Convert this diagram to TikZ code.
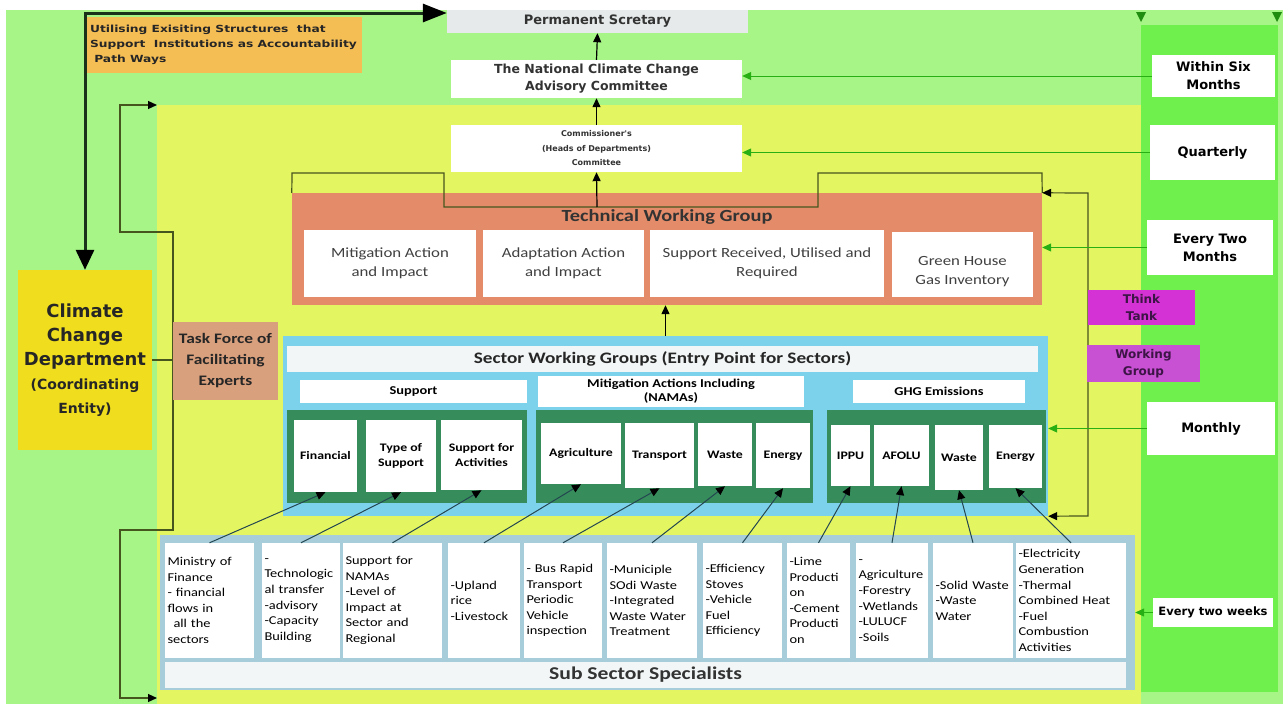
\documentclass[tikz,border=0pt]{standalone}
\usepackage{fontspec}
\setmainfont{Carlito}
\newfontfamily\fcal[FakeStretch=1.2]{Carlito}
\newfontfamily\fdv{DejaVu Sans}
\newfontfamily\fdvw[FakeStretch=1.25]{DejaVu Sans}
\usetikzlibrary{arrows.meta}
\definecolor{lgreen}{RGB}{166,245,134}
\definecolor{yel}{RGB}{228,245,98}
\definecolor{bgreen}{RGB}{112,240,76}
\definecolor{orng}{RGB}{245,190,85}
\definecolor{salmon}{RGB}{228,140,105}
\definecolor{sblue}{RGB}{125,210,235}
\definecolor{dgreen}{RGB}{55,140,92}
\definecolor{subblue}{RGB}{168,205,218}
\definecolor{sssw}{RGB}{242,246,246}
\definecolor{psgray}{RGB}{230,234,234}
\definecolor{ccdy}{RGB}{240,222,30}
\definecolor{tanb}{RGB}{217,160,125}
\definecolor{mag1}{RGB}{212,50,212}
\definecolor{mag2}{RGB}{200,80,210}
\definecolor{arrgreen}{RGB}{40,175,20}
\definecolor{olivel}{RGB}{70,85,30}
\definecolor{tealline}{RGB}{35,70,80}
\definecolor{thickc}{RGB}{25,50,25}
\definecolor{purtext}{RGB}{60,20,70}
\newcommand\mybox[7]{\node[#6,minimum width={(#4)-(#2)},minimum height={(#5)-(#3)}] (#1) at ({((#2)+(#4))/2},{((#3)+(#5))/2}) {#7};}
\begin{document}
\begin{tikzpicture}[x=1pt,y=-1pt,
  wbox/.style={draw=none,fill=white,inner sep=1pt,align=center},
  plain/.style={draw=none,inner sep=1pt,align=center},
  sbox/.style={wbox,font=\fcal\bfseries\fontsize{11.5}{15}\selectfont},
  bbox/.style={wbox,align=left,inner sep=2pt,font=\fcal\fontsize{12}{15.6}\selectfont},
  rbox/.style={wbox,font=\fdv\bfseries\fontsize{13}{18}\selectfont},
  tfont/.style={font=\fcal\fontsize{14}{19}\selectfont,text=black!75},
  tbox/.style={wbox,tfont},
  hbox/.style={wbox,font=\fcal\bfseries\fontsize{12}{14}\selectfont},
  barr/.style={draw=black,line width=1.2pt,-{Triangle[length=9pt,width=8pt]}},
  garr/.style={draw=arrgreen,line width=1pt,-{Triangle[length=9pt,width=8pt]}},
  sarr/.style={draw=tealline,line width=1pt,-{Triangle[length=9pt,width=8pt,color=black]}},
  conn/.style={draw=olivel,line width=1.2pt},
  ctip/.style={{Triangle[length=9pt,width=8pt,color=black]}-{Triangle[length=9pt,width=8pt,color=black]}}
]
\useasboundingbox (0,0) rectangle (1283,704);
% backgrounds
\fill[white] (0,0) rectangle (1283,704);
\fill[lgreen] (6,10) rectangle (1283,704);
\fill[yel] (157,105) rectangle (1141,704);
\fill[bgreen] (1141,25) rectangle (1278,692);
\fill[arrgreen!80!black] (1136,12) -- (1146,12) -- (1141,22) -- cycle;
\fill[arrgreen!80!black] (1272,12) -- (1282,12) -- (1277,22) -- cycle;

% left connector loop (behind boxes)
\coordinate (la) at (157,105);
\coordinate (lb) at (157,698);
\draw[conn,ctip] (la) -- (120,105) -- (120,232) -- (173,232) -- (173,530) -- (120,530) -- (120,698) -- (lb);

% top chain
\mybox{ps}{447}{10}{748}{33}{wbox,fill=psgray,font=\fdv\bfseries\fontsize{13}{15}\selectfont,text=black!80}{Permanent Scretary}
\mybox{nccac}{451}{60}{742}{98}{wbox,font=\fdv\bfseries\fontsize{12.5}{17}\selectfont,text=black!80}{The National Climate Change\\Advisory Committee}
\mybox{comm}{451}{125}{742}{172}{wbox,font=\fdv\bfseries\fontsize{8}{14.5}\selectfont,text=black!80}{Commissioner's\\(Heads of Departments)\\Committee}
\mybox{util}{85}{17}{362}{73}{plain,fill=orng,align=left,font=\fdvw\bfseries\fontsize{9.8}{15}\selectfont,text=black!85}{Utilising Exisiting Structures\ \ that\\Support\ \ Institutions as Accountability\\\ Path Ways}

% left
\mybox{ccd}{18}{270}{152}{450}{plain,fill=ccdy,font=\fdv\bfseries\fontsize{18}{24}\selectfont,text=black!85}{Climate\\Change\\Department\\{\fontsize{14}{17}\selectfont(Coordinating}\\{\fontsize{14}{17}\selectfont Entity)}}
\mybox{tf}{173}{322}{278}{400}{plain,fill=tanb,font=\fcal\bfseries\fontsize{14.5}{21}\selectfont,text=black!85}{Task Force of\\Facilitating\\Experts}
\draw[conn] (ccd.east) -- (ccd.east -| tf.west);

% right column
\mybox{six}{1152}{55}{1275}{97}{rbox}{Within Six\\Months}
\mybox{quart}{1150}{125}{1275}{180}{rbox}{Quarterly}
\mybox{twom}{1147}{220}{1273}{275}{rbox}{Every Two\\Months}
\mybox{month}{1147}{402}{1275}{455}{rbox}{Monthly}
\mybox{twow}{1153}{598}{1273}{627}{wbox,font=\fdv\bfseries\fontsize{11.5}{13}\selectfont}{Every two weeks}

% technical working group
\mybox{twg}{292}{193}{1042}{305}{plain,fill=salmon}{}
\node[plain,font=\fcal\bfseries\fontsize{17}{20}\selectfont,text=black!80] (twgt) at (667,217) {Technical Working Group};
\mybox{mai}{304}{230}{476}{297}{tbox}{Mitigation Action\\and Impact}
\mybox{aai}{483}{230}{644}{297}{tbox}{Adaptation Action\\and Impact}
\mybox{sru}{650}{230}{884}{297}{tbox}{Support Received, Utilised and\\Required}
\mybox{ghgi}{892}{232}{1033}{297}{wbox}{}
\node[plain,tfont] (ghgt) at ([yshift=-7pt]ghgi.center) {Green House\\Gas Inventory};

% sector working groups
\mybox{swg}{283}{336}{1048}{516}{plain,fill=sblue}{}
\mybox{swgt}{287}{346}{1038}{372}{wbox,fill=sssw,font=\fcal\bfseries\fontsize{16}{18}\selectfont,text=black!85}{Sector Working Groups (Entry Point for Sectors)}
\mybox{hsup}{300}{380}{527}{403}{hbox}{Support}
\mybox{hmit}{538}{376}{804}{407}{hbox}{Mitigation Actions Including\\(NAMAs)}
\mybox{hghg}{853}{380}{1025}{403}{hbox}{GHG Emissions}
\mybox{g1}{287}{410}{527}{503}{plain,fill=dgreen}{}
\mybox{g2}{536}{410}{813}{503}{plain,fill=dgreen}{}
\mybox{g3}{827}{410}{1046}{503}{plain,fill=dgreen}{}
\mybox{fin}{294}{420}{357}{492}{sbox}{Financial}
\mybox{tos}{366}{420}{436}{492}{sbox}{Type of\\Support}
\mybox{sfa}{441}{420}{522}{490}{sbox}{Support for\\Activities}
\mybox{agr}{541}{423}{621}{484}{sbox}{Agriculture}
\mybox{tra}{625}{423}{694}{488}{sbox}{Transport}
\mybox{waa}{698}{423}{752}{486}{sbox}{Waste}
\mybox{ena}{756}{423}{810}{488}{sbox}{Energy}
\mybox{ippu}{831}{425}{870}{486}{sbox}{IPPU}
\mybox{afolu}{874}{425}{929}{486}{sbox}{AFOLU}
\mybox{wab}{935}{425}{983}{490}{sbox}{Waste}
\mybox{enb}{989}{425}{1042}{488}{sbox}{Energy}

% connectors around TWG / SWG (drawn before the side boxes)
\draw[conn] (twg.north west) -- (292,173) -- (444,173) -- (444,207) -- (818,207) -- (818,173) -- (1042,173) -- (twg.north east);
\draw[conn,ctip] (twg.north east) -- (1088,193) -- (1088,516) -- (swg.south east);
\mybox{think}{1088}{290}{1195}{325}{plain,fill=mag1,font=\fdv\bfseries\fontsize{12}{17}\selectfont,text=purtext}{Think\\Tank}
\mybox{wg}{1087}{345}{1200}{382}{plain,fill=mag2,font=\fdv\bfseries\fontsize{12}{17}\selectfont,text=purtext}{Working\\Group}

% sub sector
\mybox{sub}{160}{535}{1135}{690}{plain,fill=subblue}{}
\mybox{b1}{165}{543}{254}{658}{bbox,text width=84pt}{Ministry of\\Finance\\- financial\\flows in\\\hspace*{0.5em}all the\\sectors}
\mybox{b2}{262}{543}{340}{658}{bbox,text width=73pt}{-\\Technologic\\al transfer\\-advisory\\-Capacity\\Building}
\mybox{b3}{343}{543}{442}{658}{bbox,text width=94pt}{Support for\\NAMAs\\-Level of\\Impact at\\Sector and\\Regional}
\mybox{b4}{448}{543}{520}{658}{bbox,text width=67pt}{-Upland\\rice\\-Livestock}
\mybox{b5}{524}{543}{602}{658}{bbox,text width=73pt}{- Bus Rapid\\Transport\\Periodic\\Vehicle\\inspection}
\mybox{b6}{607}{543}{697}{658}{bbox,text width=85pt}{-Municiple\\SOdi Waste\\-Integrated\\Waste Water\\Treatment}
\mybox{b7}{703}{543}{782}{658}{bbox,text width=74pt}{-Efficiency\\Stoves\\-Vehicle\\Fuel\\Efficiency}
\mybox{b8}{787}{543}{850}{658}{bbox,text width=58pt}{-Lime\\Producti\\on\\-Cement\\Producti\\on}
\mybox{b9}{856}{543}{928}{658}{bbox,text width=67pt}{-\\Agriculture\\-Forestry\\-Wetlands\\-LULUCF\\-Soils}
\mybox{b10}{933}{543}{1013}{658}{bbox,text width=75pt}{-Solid Waste\\-Waste\\Water}
\mybox{b11}{1016}{543}{1126}{658}{bbox,text width=105pt}{-Electricity\\Generation\\-Thermal\\Combined Heat\\-Fuel\\Combustion\\Activities}
\mybox{sss}{165}{662}{1126}{688}{plain,fill=sssw,font=\fcal\bfseries\fontsize{18}{20}\selectfont,text=black!80}{Sub Sector Specialists}

% vertical chain arrows
\draw[barr] (nccac.north) -- (ps.south);
\draw[barr] (comm.north) -- (nccac.south);
\coordinate (bm) at (597,207);
\draw[barr] (bm) -- (comm.south);
\draw[barr] (swg.north) -- (swg.north |- twg.south);

% thick accountability line
\coordinate (tc) at (85,13);
\draw[draw=thickc,line width=3pt,{Triangle[length=20pt,width=18pt,color=black]}-{Triangle[length=24pt,width=18pt,color=black]}] (ccd.north) -- (tc) -- (tc -| ps.west);

% green frequency arrows
\draw[garr] (six.west) -- (six.west -| nccac.east);
\draw[garr] (quart.west) -- (quart.west -| comm.east);
\draw[garr] (twom.west) -- (twom.west -| twg.east);
\draw[garr] (month.west) -- (month.west -| swg.east);
\draw[garr] (twow.west) -- (twow.west -| sub.east);

% sub sector to sector arrows
\draw[sarr] (b1.north) -- (fin.south);
\draw[sarr] (b2.north) -- (tos.south);
\draw[sarr] (b3.north) -- (sfa.south);
\draw[sarr] (b4.north) -- (agr.south);
\draw[sarr] (b5.north) -- (tra.south);
\draw[sarr] (b6.north) -- (waa.south);
\draw[sarr] (b7.north) -- (ena.south);
\draw[sarr] (b8.north) -- (ippu.south);
\draw[sarr] (b9.north) -- (afolu.south);
\draw[sarr] (b10.north) -- (wab.south);
\draw[sarr] (b11.north) -- (enb.south);
\end{tikzpicture}
\end{document}
